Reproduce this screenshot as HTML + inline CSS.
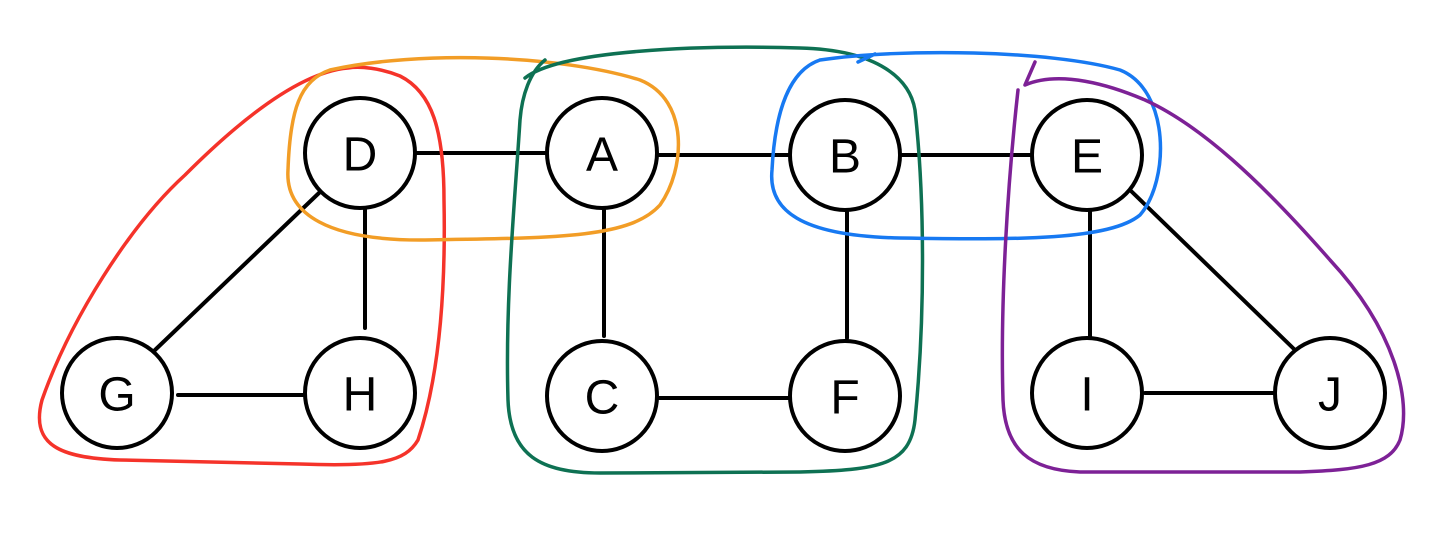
<!DOCTYPE html>
<html><head><meta charset="utf-8"><style>
html,body{margin:0;padding:0;background:#fff;}
svg{display:block}
text{font-family:"Liberation Sans",sans-serif;font-size:48px;text-anchor:middle;dominant-baseline:central;fill:#000}
</style></head><body>
<svg width="1440" height="538" viewBox="0 0 1440 538" xmlns="http://www.w3.org/2000/svg">
<g stroke="#000" stroke-width="4" fill="none" stroke-linecap="round">
<line x1="415" y1="153" x2="547" y2="153"/>
<line x1="657" y1="155" x2="790" y2="155"/>
<line x1="900" y1="155" x2="1032" y2="155"/>
<line x1="320" y1="192" x2="155" y2="350"/>
<line x1="365" y1="210" x2="365" y2="328"/>
<line x1="178" y1="395" x2="305" y2="395"/>
<line x1="604" y1="210" x2="604" y2="336"/>
<line x1="657" y1="398" x2="790" y2="398"/>
<line x1="847" y1="210" x2="847" y2="338"/>
<line x1="1090" y1="210" x2="1090" y2="338"/>
<line x1="1130" y1="190" x2="1295" y2="350"/>
<line x1="1145" y1="393" x2="1275" y2="393"/>
</g>
<g stroke-width="3.5" fill="none" stroke-linecap="round" stroke-linejoin="round">
<path stroke="#f5332a" d="M348,68 C300,72 240,120 185,175 C130,225 70,320 42,400 C30,445 60,458 120,460 L300,464 C380,467 405,462 418,440 C438,380 446,300 444,200 C444,130 432,92 400,76 C380,68 360,66 348,68"/>
<path stroke="#f29d26" d="M330,70 C420,50 560,55 640,80 C690,100 685,170 660,205 C630,238 560,238 420,240 C330,240 285,215 288,170 C290,110 300,80 330,70"/>
<path stroke="#0e7153" d="M525,78 C560,50 700,45 800,48 C880,50 910,80 915,110 C925,200 925,320 915,420 C910,465 880,470 800,472 L600,473 C540,473 510,455 508,400 C505,300 515,200 520,120 C522,95 530,72 545,60"/>
<path stroke="#1779f2" d="M820,60 C900,48 1050,50 1120,70 C1170,90 1170,180 1140,215 C1110,240 1020,240 900,238 C800,236 768,210 772,170 C775,110 790,70 820,60 M858,62 L875,54"/>
<path stroke="#7d2196" d="M1035,62 L1025,85 C1060,70 1110,85 1145,100 C1200,125 1260,180 1330,260 C1395,330 1412,400 1400,440 C1390,465 1360,470 1300,472 L1080,472 C1030,470 1005,450 1003,400 C1000,300 1008,180 1018,90"/>
</g>
<g stroke="#000" stroke-width="4" fill="#fff">
<circle cx="360" cy="153" r="55"/><circle cx="602" cy="153" r="55"/>
<circle cx="845" cy="155" r="55"/><circle cx="1087" cy="155" r="55"/>
<circle cx="117" cy="393" r="55"/><circle cx="360" cy="393" r="55"/>
<circle cx="602" cy="396" r="55"/><circle cx="845" cy="396" r="55"/>
<circle cx="1087" cy="393" r="55"/><circle cx="1330" cy="393" r="55"/>
</g>
<text x="360" y="155">D</text><text x="602" y="155">A</text>
<text x="845" y="157">B</text><text x="1087" y="157">E</text>
<text x="117" y="395">G</text><text x="360" y="395">H</text>
<text x="602" y="398">C</text><text x="845" y="398">F</text>
<text x="1087" y="395">I</text><text x="1330" y="395">J</text>
</svg>
</body></html>
